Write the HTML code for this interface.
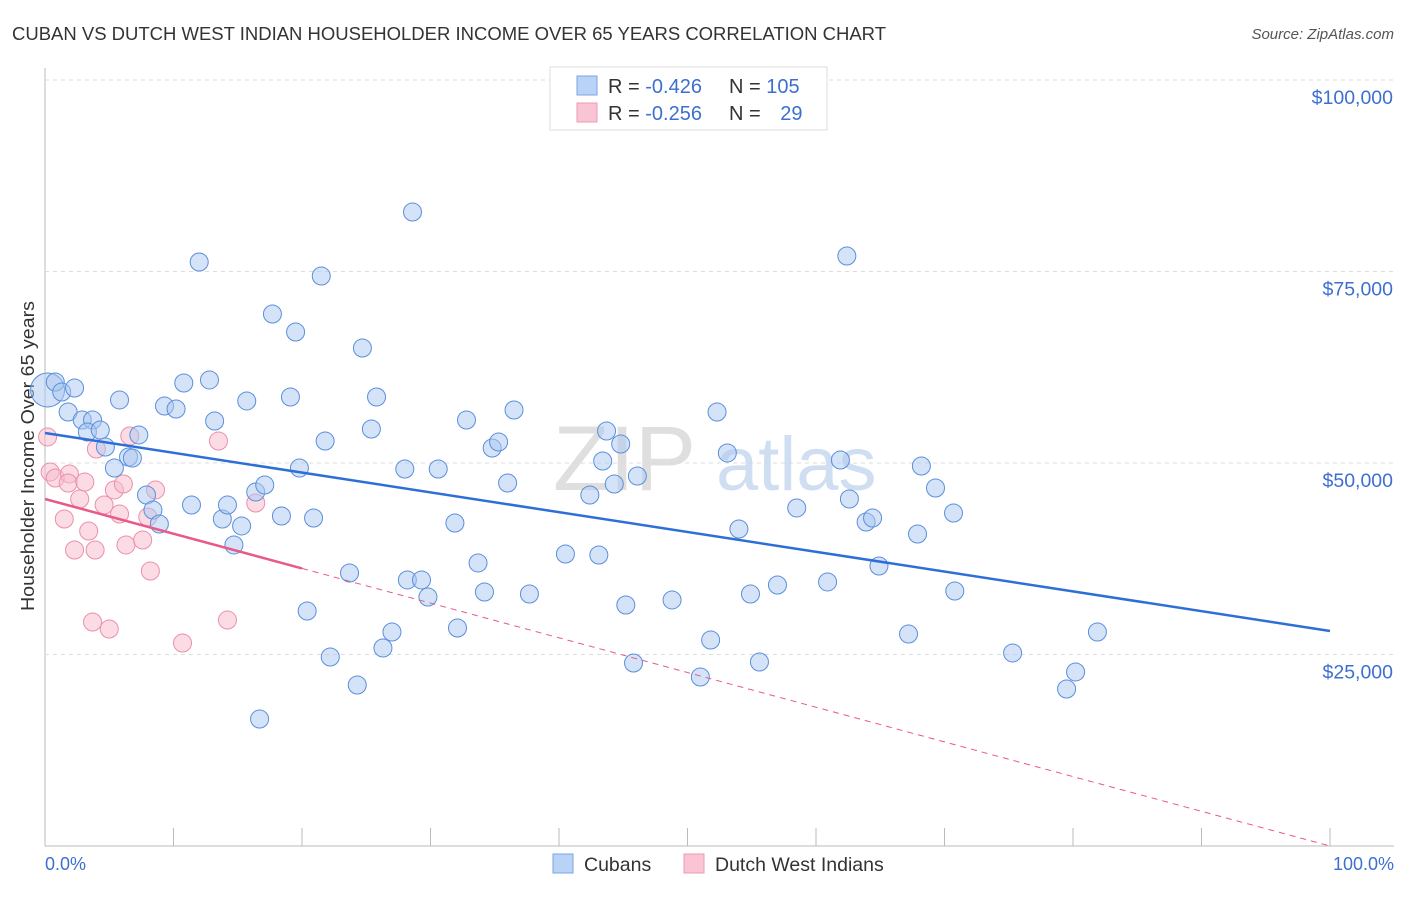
<!DOCTYPE html>
<html><head><meta charset="utf-8"><style>
body{margin:0;background:#fff;font-family:"Liberation Sans",sans-serif;}
svg text{font-family:"Liberation Sans",sans-serif;}
</style></head><body>
<svg id="chart" width="1406" height="892" xmlns="http://www.w3.org/2000/svg">
<text x="12" y="40" font-size="18" fill="#333" textLength="874" lengthAdjust="spacingAndGlyphs">CUBAN VS DUTCH WEST INDIAN HOUSEHOLDER INCOME OVER 65 YEARS CORRELATION CHART</text>
<text x="1394" y="39" font-size="15" fill="#555" text-anchor="end" font-style="italic">Source: ZipAtlas.com</text>
<g id="grid"></g>
<text x="553" y="490" font-size="92" fill="#d8d8d8" font-family="Liberation Serif" opacity="0.8">ZIP</text>
<text x="716" y="490" font-size="76" fill="#c5d7ef" opacity="0.8">atlas</text>
<text transform="translate(34,456) rotate(-90)" font-size="18" fill="#333" text-anchor="middle" textLength="310" lengthAdjust="spacingAndGlyphs">Householder Income Over 65 years</text>
<g id="points"></g>
<g id="trends"></g>
<g>
<rect x="550" y="67" width="277" height="63" fill="#fff" stroke="#ddd"/>
<rect x="577" y="76" width="20" height="19" fill="#b8d3f5" stroke="#7aa6e6"/>
<rect x="577" y="103" width="20" height="19" fill="#f9c4d3" stroke="#ee9ab3"/>
<text x="608" y="93" font-size="20" fill="#333">R = <tspan fill="#3d6fd1">-0.426</tspan></text>
<text x="729" y="93" font-size="20" fill="#333">N = <tspan fill="#3d6fd1">105</tspan></text>
<text x="608" y="120" font-size="20" fill="#333">R = <tspan fill="#3d6fd1">-0.256</tspan></text>
<text x="729" y="120" font-size="20" fill="#333">N = <tspan fill="#3d6fd1" dx="14">29</tspan></text>
</g>
<g>
<rect x="553" y="854" width="20" height="19" fill="#b8d3f5" stroke="#7aa6e6"/>
<text x="584" y="871" font-size="19.5" fill="#333">Cubans</text>
<rect x="684" y="854" width="20" height="19" fill="#f9c4d3" stroke="#ee9ab3"/>
<text x="715" y="871" font-size="19.5" fill="#333">Dutch West Indians</text>
</g>
<text x="45" y="870" font-size="18" fill="#3d6fd1">0.0%</text>
<text x="1394" y="870" font-size="18" fill="#3d6fd1" text-anchor="end">100.0%</text>
</svg>
<script>
const yTicks=[25000,50000,75000,100000];
const yTickLabels=["$25,000","$50,000","$75,000","$100,000"];
const xTicks=[0,10,20,30,40,50,60,70,80,90,100];
const cubanX=[0.2,0.8,1.3,2.3,1.8,2.9,3.7,3.3,4.3,4.7,5.4,5.8,6.5,6.8,7.3,7.9,8.4,8.9,9.3,10.2,10.8,11.4,12.0,12.8,13.2,13.8,14.2,14.7,15.3,15.7,16.4,16.7,17.1,17.7,18.4,19.1,19.5,19.8,20.4,20.9,21.5,21.8,22.2,23.7,24.3,24.7,25.4,25.8,26.3,27.0,28.0,28.2,28.6,29.3,29.8,30.6,31.9,32.1,32.8,33.7,34.2,34.8,35.3,36.0,36.5,37.7,40.5,42.4,43.1,43.4,43.7,44.3,44.8,45.2,45.8,46.1,48.8,51.0,51.8,52.3,53.1,54.0,54.9,55.6,57.0,58.5,60.9,61.9,62.4,62.6,63.9,64.4,64.9,67.2,67.9,68.2,69.3,70.7,70.8,75.3,79.5,80.2,81.9];
const cubanY=[59530,60575,59270,59790,56660,55610,55610,54050,54310,52090,49350,58230,50780,50650,53660,45820,43860,42040,57440,57050,60445,44520,76240,60840,55480,42690,44520,39300,41780,58100,46210,16580,47130,69450,43080,58620,67100,49350,30680,42820,74410,52870,24670,35640,21020,65010,54440,58620,25850,27940,49220,34730,82770,34730,32510,49220,42170,28460,55610,36950,33160,51960,52740,47390,56920,32900,38120,45820,37990,50260,54180,47260,52480,31460,23890,48300,32120,22060,26890,56660,51310,41380,32900,24020,34070,44130,34470,50390,77020,45300,42300,42820,36550,27680,40730,49610,46740,43470,33290,25200,20500,22720,27940];
const dutchX=[0.2,0.4,0.8,1.5,1.9,2.3,1.8,2.7,3.1,3.4,3.9,4.0,3.7,4.6,5.0,5.4,5.8,6.1,6.3,6.6,7.6,8.0,8.2,8.6,10.7,13.5,14.2,16.4];
const dutchY=[53400,48830,48040,42690,48570,38640,47390,45300,47520,41120,38640,51830,29240,44520,28330,46480,43340,47260,39300,53530,39950,42950,35900,46480,26500,52870,29500,44780];
const cubanTrend=[53920,28070];
const dutchTrend=[45300,0];
const dutchSolidEnd=20;
const NS="http://www.w3.org/2000/svg";
const X0=45,X1=1330,YB=846,PX=191.5/25000;
const xs=v=>X0+(X1-X0)*v/100;
const ys=v=>YB-v*PX;
function mk(tag,attrs,parent){const e=document.createElementNS(NS,tag);for(const k in attrs)e.setAttribute(k,attrs[k]);parent.appendChild(e);return e;}
const grid=document.getElementById('grid');
let ax=mk('line',{x1:X0,y1:68,x2:X0,y2:846,stroke:'#bbb'},grid);


let bx=mk('line',{x1:X0,y1:846,x2:1394,y2:846,stroke:'#bbb'},grid);


yTicks.forEach((t,i)=>{
 const y=ys(t);
 const g=mk('line',{x1:X0,y1:y,x2:1394,y2:y,stroke:'#ddd','stroke-dasharray':'4,4'},grid);
 
 
 const tx=mk('text',{x:1393,y:y+24,'font-size':19.5,fill:'#3d6fd1','text-anchor':'end'},grid);
 tx.textContent=yTickLabels[i];
 
 
});
xTicks.forEach(t=>{
 const x=xs(t);
 const l=mk('line',{x1:x,y1:828,x2:x,y2:846,stroke:'#bbb'},grid);
 
 
});
const pts=document.getElementById('points');
dutchX.forEach((v,i)=>{
 const c=mk('circle',{cx:xs(v),cy:ys(dutchY[i]),r:9,fill:'#f7b9cb',stroke:'#ec8fab','fill-opacity':0.5,'stroke-width':1},pts);
 
 
});
cubanX.forEach((v,i)=>{
 const c=mk('circle',{cx:xs(v),cy:ys(cubanY[i]),r:i===0?17:9,fill:'#a9c8f0',stroke:'#5b8fdc','fill-opacity':0.5,'stroke-width':1},pts);
 
 
});
const tr=document.getElementById('trends');
let l1=mk('line',{x1:xs(0),y1:ys(cubanTrend[0]),x2:xs(100),y2:ys(cubanTrend[1]),stroke:'#2d6fd6','stroke-width':2.5},tr);


const dAt=p=>dutchTrend[0]+(dutchTrend[1]-dutchTrend[0])*p/100;
let l2=mk('line',{x1:xs(0),y1:ys(dAt(0)),x2:xs(dutchSolidEnd),y2:ys(dAt(dutchSolidEnd)),stroke:'#e85a88','stroke-width':2.5},tr);


let l3=mk('line',{x1:xs(dutchSolidEnd),y1:ys(dAt(dutchSolidEnd)),x2:xs(100),y2:ys(dAt(100)),stroke:'#e85a88','stroke-width':1,'stroke-dasharray':'6,5'},tr);


</script>
</body></html>
